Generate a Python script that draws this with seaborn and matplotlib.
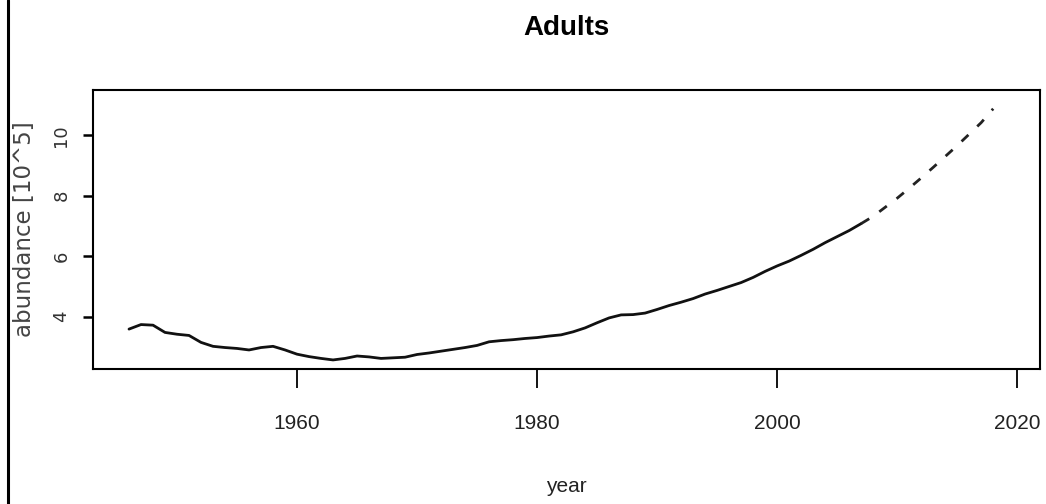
import matplotlib
matplotlib.use("Agg")
import matplotlib.pyplot as plt
from matplotlib.lines import Line2D
import pandas as pd
import seaborn as sns

# Observed adult abundance (10^5 individuals), 1946-2007
obs_years = list(range(1946, 2008))
obs_values = [
    3.59, 3.74, 3.72, 3.48, 3.42, 3.38, 3.15, 3.02, 2.98, 2.95,
    2.90, 2.98, 3.02, 2.90, 2.76, 2.68, 2.62, 2.57, 2.62, 2.70,
    2.67, 2.62, 2.64, 2.66, 2.75, 2.80, 2.86, 2.92, 2.98, 3.05,
    3.17, 3.21, 3.24, 3.28, 3.31, 3.36, 3.40, 3.50, 3.63, 3.80,
    3.96, 4.06, 4.07, 4.12, 4.24, 4.37, 4.48, 4.60, 4.75, 4.87,
    5.00, 5.13, 5.30, 5.50, 5.68, 5.84, 6.03, 6.23, 6.45, 6.65,
    6.85, 7.08,
]

# Projected abundance, 2007-2018
proj_years = list(range(2007, 2019))
proj_values = [7.08, 7.32, 7.62, 7.92, 8.25, 8.59, 8.94, 9.30, 9.66, 10.04,
               10.42, 10.88]

x_ticks = [1960, 1980, 2000, 2020]
y_ticks = [4, 6, 8, 10]

obs = pd.DataFrame({"year": obs_years, "abundance": obs_values})
proj = pd.DataFrame({"year": proj_years, "abundance": proj_values})

sns.set_theme(style="white")
sans = ["Liberation Sans", "DejaVu Sans"]
plt.rcParams["font.family"] = ["DejaVu Sans"]

W, H = 1046, 504
fig = plt.figure(figsize=(W / 100, H / 100), dpi=100)
ax = fig.add_axes([93 / W, 1 - 369 / H, (1040 - 93) / W, (369 - 90) / H])

sns.lineplot(data=obs, x="year", y="abundance", ax=ax, color="#111111", lw=2.0)
sns.lineplot(data=proj, x="year", y="abundance", ax=ax, color="#222222", lw=2.0,
             linestyle=(0, (3.4, 4.4)))

ax.set_xlim(1943.0, 2021.9)
ax.set_ylim(2.27, 11.5)
ax.set_xticks(x_ticks)
ax.set_yticks(y_ticks)
ax.set_xticklabels([str(t) for t in x_ticks], fontfamily=sans, fontsize=15,
                   color="#222222")
ax.set_yticklabels([str(t) for t in y_ticks], rotation=90, va="center",
                   fontsize=13, color="#333333")

for s in ax.spines.values():
    s.set_visible(True)
    s.set_color("black")
    s.set_linewidth(1.5)

ax.tick_params(axis="x", direction="out", length=13.5, width=1.3, color="black",
               pad=19, bottom=True)
ax.tick_params(axis="y", direction="out", length=7.2, width=1.8, color="black",
               pad=9, left=True)
ax.grid(False)

ax.set_xlabel("")
ax.set_ylabel("")
fig.text(566.5 / W, 1 - 487 / H, "year", ha="center", va="center",
         fontfamily=sans, fontsize=15, color="#222222")
fig.text(25 / W, 1 - 229 / H, "abundance [10^5]", ha="center", va="center",
         rotation=90, fontsize=16.5, color="#444444")
fig.text(566.5 / W, 1 - 35 / H, "Adults", ha="center", va="baseline",
         fontfamily=sans, fontweight="bold", fontsize=20, color="black")

# frame line along the left edge of the figure
fig.add_artist(Line2D([8 / W, 8 / W], [0, 1], transform=fig.transFigure,
                      color="black", lw=2.2))

fig.savefig("out.png", dpi=100)
